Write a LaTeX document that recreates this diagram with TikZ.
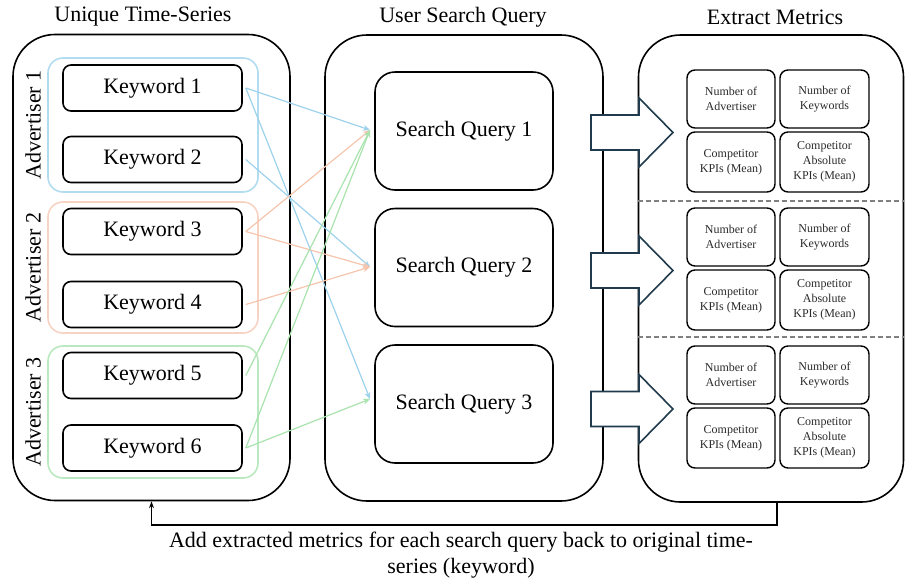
\documentclass[tikz,border=0pt]{standalone}
\usepackage{fontspec}
\setmainfont{Liberation Serif}
\usetikzlibrary{arrows.meta,calc}
\definecolor{lnblue}{HTML}{9ED2EC}
\definecolor{lnsalmon}{HTML}{F6C5AE}
\definecolor{lngreen}{HTML}{A9E3AE}
\definecolor{gblue}{HTML}{B2DCF0}
\definecolor{gsalmon}{HTML}{F7D3C4}
\definecolor{ggreen}{HTML}{BBE9BF}
\definecolor{barrowc}{HTML}{1F3B4D}
\definecolor{mtext}{HTML}{2A2A2A}
\begin{document}
\begin{tikzpicture}[x=1pt,y=-1pt,
  bigfont/.style={font=\fontsize{22}{26}\selectfont},
  panel/.style={draw, line width=1.6pt, rounded corners=42pt, inner sep=0pt},
  kwbox/.style={draw, line width=1.6pt, rounded corners=8pt, minimum width=179pt, minimum height=46pt, inner sep=0pt, bigfont},
  grp/.style={line width=1.6pt, rounded corners=15pt, minimum width=210pt, inner sep=0pt},
  sqbox/.style={draw, line width=1.6pt, rounded corners=20pt, minimum width=178pt, minimum height=118pt, inner sep=0pt, bigfont},
  mbox/.style={draw, line width=1.4pt, rounded corners=8pt, minimum height=58pt, inner sep=0pt, align=center, text=mtext, font=\fontsize{12}{15}\selectfont},
  conn/.style={line width=1.2pt, -{Stealth[length=7pt,width=6pt]}},
  barrow/.style={draw=barrowc, fill=white, line width=1.6pt, line join=miter},
]
\useasboundingbox (0,0) rectangle (908,582);

% panels
\node[panel, minimum width=277pt, minimum height=466pt] (lp) at (151.5,267.5) {};
\node[panel, minimum width=278pt, minimum height=466pt] (mp) at (464,268) {};
\node[panel, minimum width=265pt, minimum height=467pt] (rp) at (771,268.5) {};

% titles
\node[bigfont] (tl) at (143,17) {Unique Time-Series};
\node[bigfont] (tm) at (463,17) {User Search Query};
\node[bigfont] (tr) at (775,17) {Extract Metrics};

% advertiser groups
\node[grp, draw=gblue, minimum height=134pt] (g1) at (153,125) {};
\node[grp, draw=gsalmon, minimum height=131pt] (g2) at (153,267.5) {};
\node[grp, draw=ggreen, minimum height=132pt] (g3) at (153,412) {};

\node[bigfont, rotate=90] (a1) at (33,125) {Advertiser 1};
\node[bigfont, rotate=90] (a2) at (33,267.5) {Advertiser 2};
\node[bigfont, rotate=90] (a3) at (33,412) {Advertiser 3};

% keywords
\node[kwbox] (k1) at (152.5,88) {Keyword 1};
\node[kwbox] (k2) at (152.5,159.5) {Keyword 2};
\node[kwbox] (k3) at (152.5,231.5) {Keyword 3};
\node[kwbox] (k4) at (152.5,304.5) {Keyword 4};
\node[kwbox] (k5) at (152.5,375.5) {Keyword 5};
\node[kwbox] (k6) at (152.5,448) {Keyword 6};

% search queries
\node[sqbox] (s1) at (464,131) {Search Query 1};
\node[sqbox] (s2) at (464,267.5) {Search Query 2};
\node[sqbox] (s3) at (464,404) {Search Query 3};

\coordinate (t1) at (370,130);
\coordinate (t2) at (370,267);
\coordinate (t3) at (370,399);

% connectors
\draw[conn, draw=lnblue, fill=lnblue] ([xshift=3pt]k1.east) -- (t1);
\draw[conn, draw=lnblue, fill=lnblue] ([xshift=3pt]k1.east) -- (t3);
\draw[conn, draw=lnblue, fill=lnblue] ([xshift=3pt]k2.east) -- (t2);
\draw[conn, draw=lnsalmon, fill=lnsalmon] ([xshift=3pt]k3.east) -- (t1);
\draw[conn, draw=lnsalmon, fill=lnsalmon] ([xshift=3pt]k3.east) -- (t2);
\draw[conn, draw=lnsalmon, fill=lnsalmon] ([xshift=3pt]k4.east) -- (t2);
\draw[conn, draw=lngreen, fill=lngreen] ([xshift=3pt]k5.east) -- (t1);
\draw[conn, draw=lngreen, fill=lngreen] ([xshift=3pt]k6.east) -- (t1);
\draw[conn, draw=lngreen, fill=lngreen] ([xshift=3pt]k6.east) -- (t3);

% block arrows
\foreach \c in {132.5,270.5,409}{
  \draw[barrow] (591,{\c-17.5}) -- (639,{\c-17.5}) -- (639,{\c-34.5}) -- (673,\c)
    -- (639,{\c+34.5}) -- (639,{\c+17.5}) -- (591,{\c+17.5}) -- cycle;
}

% metric boxes
\foreach \g/\yg in {1/70,2/208,3/346}{
  \node[mbox, minimum width=88pt] (m\g a) at (731,{\yg+29}) {Number of\\Advertiser};
  \node[mbox, minimum width=89pt] (m\g b) at (824.5,{\yg+29}) {Number of\\Keywords};
  \node[mbox, minimum width=88pt, minimum height=60pt] (m\g c) at (731,{\yg+92}) {Competitor\\KPIs (Mean)};
  \node[mbox, minimum width=89pt, minimum height=60pt] (m\g d) at (824.5,{\yg+92}) {Competitor\\Absolute\\KPIs (Mean)};
}

% dashed separators
\draw[dash pattern=on 5pt off 3pt, draw=gray, line width=1.1pt] (rp.west |- 0,201) -- (rp.east |- 0,201);
\draw[dash pattern=on 5pt off 3pt, draw=gray, line width=1.1pt] (rp.west |- 0,337) -- (rp.east |- 0,337);

% feedback connector
\coordinate (fb) at (777,525);
\draw[line width=1.3pt, -{Stealth[length=7pt,width=5pt]}] (rp.south -| fb) -- (fb) -| (lp.south);

\node[bigfont, align=center] (cap) at (461,555) {Add extracted metrics for each search query back to original time-\\series (keyword)};
\end{tikzpicture}
\end{document}
